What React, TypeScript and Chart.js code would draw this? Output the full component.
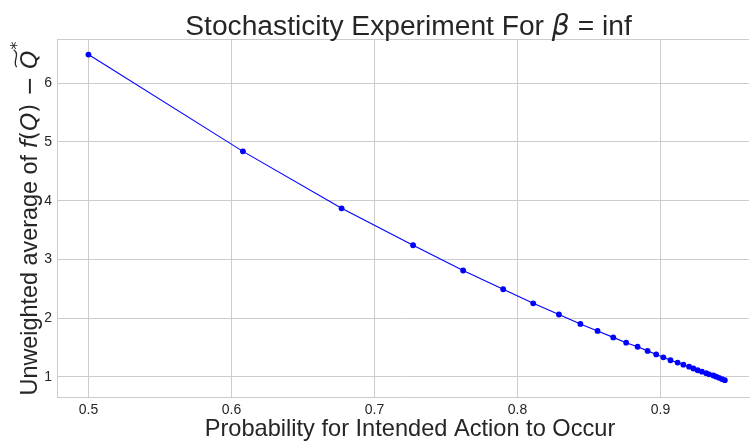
import { useEffect, useRef } from 'react';
import { Chart, registerables } from 'chart.js';
Chart.register(...registerables);

// Probability for intended action to occur (x) and unweighted average (y)
const probabilities = [
  0.500, 0.608, 0.677, 0.727, 0.762, 0.790, 0.811, 0.829, 0.844, 0.856,
  0.867, 0.876, 0.884, 0.891, 0.897, 0.902, 0.907, 0.912, 0.916, 0.920,
  0.923, 0.926, 0.929, 0.932, 0.934, 0.937, 0.939, 0.941, 0.943, 0.945,
];
const averages = [
  6.49, 4.84, 3.87, 3.24, 2.81, 2.49, 2.25, 2.06, 1.90, 1.78,
  1.67, 1.58, 1.51, 1.44, 1.38, 1.33, 1.28, 1.24, 1.205, 1.17,
  1.14, 1.11, 1.085, 1.06, 1.04, 1.02, 1.00, 0.98, 0.96, 0.94,
];
const xTickStep = 0.1;
const yTickStep = 1;

const TEXT = '#262626';
const GRID = '#cccccc';
const SANS = '"Liberation Sans", Arial, sans-serif';
const MATH = '"DejaVu Sans", sans-serif';

type Run = { t: string; f: string };

function runsWidth(ctx: CanvasRenderingContext2D, runs: Run[]) {
  let w = 0;
  for (const r of runs) { ctx.font = r.f; w += ctx.measureText(r.t).width; }
  return w;
}
function drawRuns(ctx: CanvasRenderingContext2D, runs: Run[], x: number, y: number) {
  const pos: number[] = [];
  for (const r of runs) {
    ctx.font = r.f;
    pos.push(x);
    ctx.fillText(r.t, x, y);
    x += ctx.measureText(r.t).width;
  }
  pos.push(x);
  return pos;
}

const textPlugin = {
  id: 'texts',
  beforeDatasetsDraw(chart: any) {
    const { ctx, chartArea } = chart;
    ctx.save();
    ctx.strokeStyle = GRID;
    ctx.lineWidth = 1;
    ctx.beginPath();
    ctx.moveTo(chartArea.left, chartArea.top + 0.5);
    ctx.lineTo(chartArea.right, chartArea.top + 0.5);
    ctx.stroke();
    ctx.restore();
  },
  afterDraw(chart: any) {
    const ctx: CanvasRenderingContext2D = chart.ctx;
    ctx.save();
    ctx.fillStyle = TEXT;
    ctx.textAlign = 'left';
    ctx.textBaseline = 'alphabetic';

    // Title
    const ts = 28.2;
    const title: Run[] = [
      { t: 'Stochasticity Experiment For ', f: `${ts}px ${SANS}` },
      { t: 'β', f: `italic ${ts}px ${MATH}` },
      { t: ' = ', f: `${ts}px ${SANS}` },
      { t: 'inf', f: `${ts}px ${SANS}` },
    ];
    const tw = runsWidth(ctx, title);
    drawRuns(ctx, title, 408.5 - tw / 2, 34.5);

    // X label
    ctx.font = `23.6px ${SANS}`;
    ctx.textAlign = 'center';
    ctx.fillText('Probability for Intended Action to Occur', 410, 436);
    ctx.textAlign = 'left';

    // Y label (rotated)
    const ls = 23.4;
    const yl: Run[] = [
      { t: 'Unweighted average of ', f: `${ls}px ${SANS}` },
      { t: 'f', f: `italic ${ls}px ${MATH}` },
      { t: '(', f: `${ls}px ${MATH}` },
      { t: 'Q', f: `italic ${ls}px ${MATH}` },
      { t: ')', f: `${ls}px ${MATH}` },
      { t: ' − ', f: `${ls}px ${MATH}` },
      { t: 'Q', f: `italic ${ls}px ${MATH}` },
      { t: '*', f: `${ls * 0.7}px ${MATH}` },
    ];
    ctx.translate(37, 219);
    ctx.rotate(-Math.PI / 2);
    const yw = runsWidth(ctx, yl);
    const x0 = -yw / 2;
    const main = yl.slice(0, 7);
    const pos = drawRuns(ctx, main, x0, 0);
    // superscript
    ctx.font = yl[7].f;
    ctx.fillText('*', pos[7] + 1, -ls * 0.62);
    // wide tilde over the last Q
    const qx0 = pos[6] + 2;
    const qx1 = pos[7] + 1;
    const ty = -ls * 0.93;
    ctx.strokeStyle = TEXT;
    ctx.lineWidth = 1.3;
    ctx.beginPath();
    ctx.moveTo(qx0, ty + 1.5);
    ctx.bezierCurveTo(qx0 + (qx1 - qx0) * 0.3, ty - 3.5, qx0 + (qx1 - qx0) * 0.7, ty + 5.5, qx1, ty - 1.5);
    ctx.stroke();
    ctx.restore();
  },
};

export default function App() {
  const ref = useRef<HTMLCanvasElement>(null);
  useEffect(() => {
    document.body.style.margin = '0';
    const points = probabilities.map((p, i) => ({ x: p, y: averages[i] }));
    const chart = new Chart(ref.current!, {
      type: 'line',
      data: {
        datasets: [
          {
            data: points,
            borderColor: '#0000ff',
            backgroundColor: '#0000ff',
            borderWidth: 1.1,
            pointRadius: 2.9,
            pointBorderWidth: 0,
            pointBackgroundColor: '#0000ff',
            tension: 0,
            fill: false,
          },
        ],
      },
      options: {
        animation: false,
        responsive: true,
        maintainAspectRatio: false,
        devicePixelRatio: 1,
        layout: { padding: { top: 39, left: 0, right: 0, bottom: 0 } },
        plugins: {
          legend: { display: false },
          title: { display: false },
          tooltip: { enabled: false },
        },
        scales: {
          x: {
            type: 'linear',
            min: 0.478,
            max: 0.9619,
            afterFit: (s: any) => { s.height = 48; },
            grid: { color: GRID, lineWidth: 1, drawTicks: false },
            border: { color: GRID, width: 1 },
            ticks: {
              stepSize: xTickStep,
              includeBounds: false,
              padding: 5,
              maxRotation: 0,
              autoSkip: false,
              color: TEXT,
              font: { family: SANS, size: 14 },
              callback: (v: any) => Number(v).toFixed(1),
            },
          },
          y: {
            type: 'linear',
            min: 0.654,
            max: 6.755,
            afterFit: (s: any) => { s.width = 57; },
            grid: { color: GRID, lineWidth: 1, drawTicks: false },
            border: { color: GRID, width: 1 },
            ticks: {
              stepSize: yTickStep,
              includeBounds: false,
              padding: 5,
              autoSkip: false,
              color: TEXT,
              font: { family: SANS, size: 14 },
              callback: (v: any) => String(Math.round(Number(v))),
            },
          },
        },
      },
      plugins: [textPlugin],
    });
    return () => chart.destroy();
  }, []);
  return (
    <div style={{ position: 'relative', width: 753, height: 445 }}>
      <canvas ref={ref} />
    </div>
  );
}
